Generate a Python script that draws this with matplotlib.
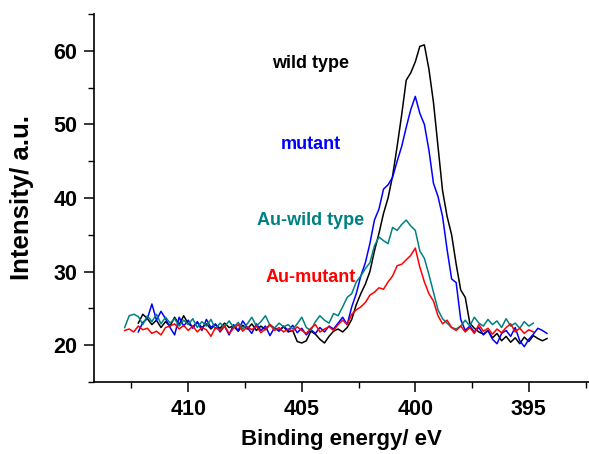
import numpy as np
import matplotlib
matplotlib.use("Agg")
import matplotlib.pyplot as plt
from matplotlib.ticker import MultipleLocator

# Bindungsenergie-Raster (eV), 0.2 eV Schritt, absteigend
energy = np.round(np.arange(412.8, 394.19, -0.2), 1)

# wild type: 412.2 ... 394.2
wild_type = [
    23.0, 24.2, 23.6, 22.8, 23.4, 22.4, 23.2, 22.6, 23.8, 22.8,
    24.0, 22.9, 22.5, 23.1, 22.4, 22.9, 22.2, 22.8, 22.3, 23.0,
    22.4, 22.6, 21.9, 22.7, 22.2, 22.9, 22.0, 22.6, 22.1, 22.8,
    22.3, 22.0, 22.5, 21.8, 22.0, 20.5, 20.3, 20.6, 21.9, 21.5,
    20.8, 20.3, 21.2, 21.9, 22.2, 21.8, 22.4, 23.5, 25.5, 27.0,
    28.3, 30.0, 32.8, 35.2, 37.9, 40.0, 43.0, 47.0, 51.3, 56.0,
    57.0, 58.5, 60.6, 60.8, 57.5, 53.0, 47.0, 41.0, 37.5, 35.0,
    31.0, 27.5, 26.5, 23.0, 22.3, 21.8, 21.5, 22.0, 21.0, 21.6,
    20.6, 21.2, 20.4, 21.0, 20.2, 21.1, 20.5, 21.3, 20.9, 20.6,
    20.9,
]

# mutant: 412.2 ... 394.2
mutant = [
    21.8, 23.1, 23.6, 25.6, 23.4, 24.6, 23.6, 22.4, 21.4, 23.8,
    22.6, 23.4, 22.3, 23.2, 22.0, 23.5, 22.4, 22.9, 21.8, 22.6,
    21.4, 22.8, 22.0, 23.3, 22.4, 21.6, 22.9, 22.0, 22.6, 21.3,
    22.4, 21.9, 22.6, 22.0, 22.7, 21.7, 22.3, 21.4, 22.1, 21.6,
    22.4, 21.8, 22.6, 22.2, 23.0, 23.8, 22.8, 25.2, 27.0, 29.4,
    31.2, 33.8, 37.0, 38.5, 41.2, 41.8, 42.8, 45.0, 47.0, 49.6,
    52.0, 53.8, 51.5, 50.0, 46.5, 42.0, 40.2, 37.5, 33.0, 29.0,
    28.5, 23.5, 22.0, 22.6, 21.8, 22.4, 21.4, 22.0, 20.8, 20.2,
    21.6, 22.0, 21.2, 22.4, 20.6, 19.8, 20.8, 21.5, 22.3, 22.0,
    21.6,
]

# Au-wild type: 412.8 ... 394.8
au_wild_type = [
    22.4, 24.0, 24.2, 23.9, 22.8, 24.0, 23.2, 24.2, 22.9, 23.8,
    23.0, 23.6, 22.6, 23.4, 22.8, 23.6, 22.4, 23.2, 22.6, 23.5,
    22.2, 23.0, 22.5, 23.3, 22.4, 23.1, 22.2, 22.9, 23.8, 22.6,
    23.2, 24.0, 22.7, 22.3, 23.0, 22.5, 22.8, 22.2, 22.9, 23.8,
    22.4, 22.0, 23.2, 24.0, 23.4, 23.0, 24.3, 24.0, 25.2, 26.5,
    27.0, 28.6, 29.4, 30.4, 31.2, 33.5, 34.7, 34.2, 33.8, 36.0,
    35.6, 36.4, 37.0, 36.2, 35.6, 32.8, 31.8, 29.6, 27.2, 24.8,
    23.6, 23.0, 22.4, 22.2, 22.6, 23.4, 22.6, 23.8, 23.0, 22.6,
    23.5, 22.8, 23.3, 22.4, 23.6, 22.6, 23.0, 22.3, 23.2, 22.6,
    23.0,
]

# Au-mutant: 412.8 ... 394.8
au_mutant = [
    22.0, 22.2, 21.8, 22.6, 22.1, 22.3, 21.6, 21.9, 21.4, 22.4,
    22.6, 22.9, 22.2, 22.7, 22.0, 22.6, 21.8, 22.4, 22.1, 21.2,
    22.4, 22.0, 22.6, 21.6, 22.3, 22.8, 21.9, 22.5, 22.1, 22.6,
    21.7, 22.2, 22.8, 22.0, 22.4, 21.8, 22.2, 21.9, 22.5, 22.0,
    21.6, 22.3, 22.8, 21.8, 22.2, 22.5, 22.0, 22.8, 23.4, 22.8,
    24.2, 24.8, 25.2, 25.8, 26.8, 27.2, 27.8, 27.6, 28.6, 29.4,
    30.8, 31.0, 31.6, 32.2, 33.2, 30.6, 28.6, 27.0, 26.0, 24.0,
    22.9, 23.4, 22.4, 22.0, 22.6, 21.8, 22.4, 21.6, 22.8, 21.9,
    22.3, 21.5, 22.2, 21.7, 22.4, 22.9, 21.8, 22.3, 21.6, 22.1,
    21.8,
]

series = [
    ("wild type", energy[3:], wild_type, "black", 57.6),
    ("mutant", energy[3:], mutant, "#0000ff", 46.6),
    ("Au-wild type", energy[:91], au_wild_type, "#008080", 36.3),
    ("Au-mutant", energy[:91], au_mutant, "#ff0000", 28.6),
]
label_x = 404.6

plt.rcParams["font.family"] = ["Liberation Sans", "DejaVu Sans"]
plt.rcParams["font.weight"] = "bold"

fig = plt.figure(figsize=(5.89, 4.54), dpi=100)
ax = fig.add_axes([0.1596, 0.1586, 0.8404, 0.8106])

for name, x, y, col, ly in series:
    ax.plot(x, y, color=col, lw=1.1)
    ax.text(label_x, ly, name, color=col, fontsize=13, fontweight="bold",
            ha="center", va="baseline")

ax.set_xlim(414.15, 392.35)
ax.set_ylim(15, 65)
ax.xaxis.set_major_locator(MultipleLocator(5))
ax.xaxis.set_minor_locator(MultipleLocator(2.5))
ax.yaxis.set_major_locator(MultipleLocator(10))
ax.yaxis.set_minor_locator(MultipleLocator(5))

ax.spines["top"].set_visible(False)
ax.spines["right"].set_visible(False)
for s in ["left", "bottom"]:
    ax.spines[s].set_linewidth(1.2)

ax.tick_params(which="major", direction="out", length=7, width=1.1,
               labelsize=15.5, pad=5)
ax.tick_params(which="minor", direction="out", length=4, width=1.0)
for lbl in ax.get_xticklabels() + ax.get_yticklabels():
    lbl.set_fontweight("bold")

ax.set_xlabel("Binding energy/ eV", fontsize=16, fontweight="bold", labelpad=7)
ax.set_ylabel("Intensity/ a.u.", fontsize=18.5, fontweight="bold", labelpad=14)

fig.savefig("out.png", dpi=100)
